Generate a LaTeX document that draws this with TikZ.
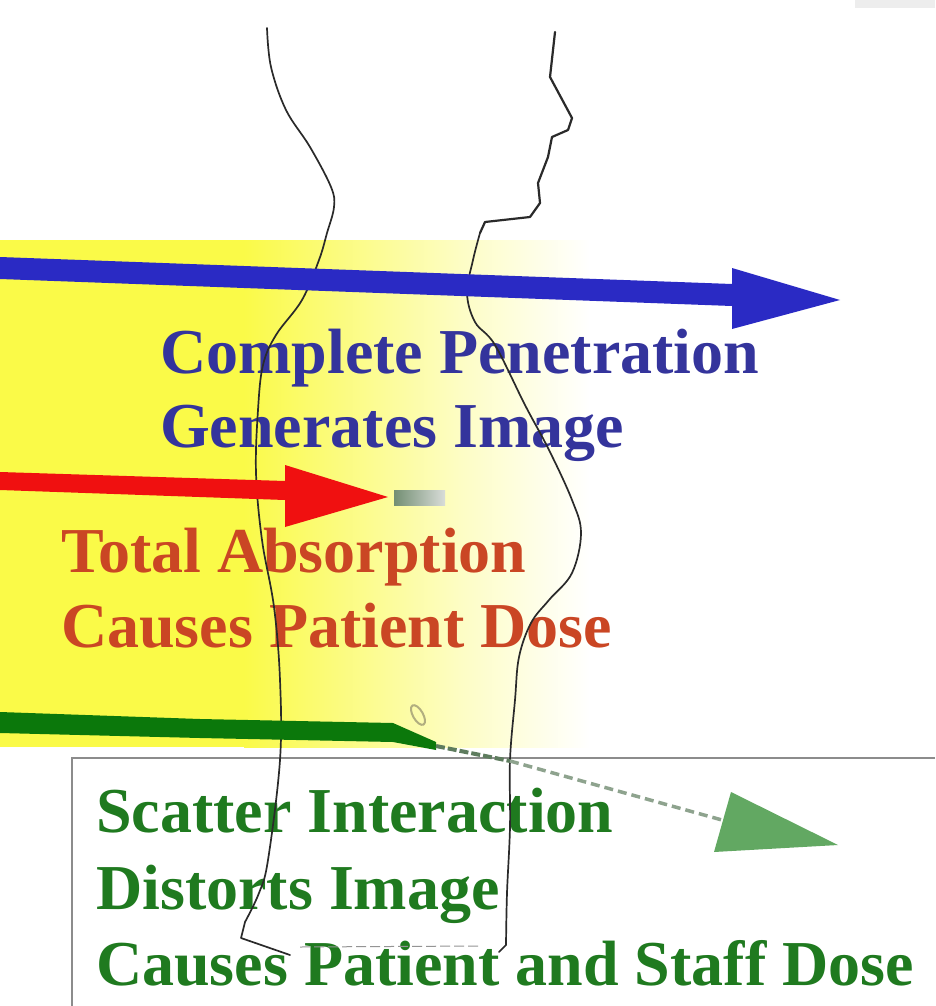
\documentclass[tikz,border=0pt]{standalone}
\usepackage{fontspec}
\setmainfont{Liberation Serif}
\definecolor{beamyellow}{HTML}{FAFA48}
\definecolor{paleyellow}{HTML}{FDFDC4}
\definecolor{penblue}{HTML}{2A2AC4}
\definecolor{penbluetext}{HTML}{34349C}
\definecolor{absred}{HTML}{F01010}
\definecolor{absredtext}{HTML}{CA4624}
\definecolor{scatgreen}{HTML}{0B780B}
\definecolor{scatgreentext}{HTML}{1F7A1F}
\definecolor{scatlight}{HTML}{62A862}
\definecolor{trailgrey}{HTML}{5E7C5E}
\definecolor{outline}{HTML}{2A2A2A}
\definecolor{boxgrey}{HTML}{8C8C8C}
\tikzset{
  caption/.style={anchor=base west, inner sep=0pt,
    font=\fontsize{64}{75}\selectfont\bfseries},
  body/.style={draw=outline, line width=1.7pt, line join=round, line cap=round},
  face/.style={body, line width=2.2pt},
}
\begin{document}
\begin{tikzpicture}[x=1pt,y=-1pt]
\useasboundingbox (0,0) rectangle (935,1006);
\fill[white] (0,0) rectangle (935,1006);
\fill[black!7] (855,0) rectangle (935,8);

% x-ray beam field, fading out to the right
\fill[beamyellow] (0,240) rectangle (245,747);
\shade[left color=beamyellow, right color=paleyellow] (244,240) rectangle (460,747);
\shade[left color=paleyellow, right color=white] (459,240) rectangle (590,747);

% detector / film frame
\draw[boxgrey, line width=2pt] (935,758) -- (72,758) -- (72,1006);

% captions
\node[caption, text=penbluetext] (pen1) at (160,373) {Complete Penetration};
\node[caption, text=penbluetext] (pen2) at (160,447) {Generates Image};
\node[caption, text=absredtext] (abs1) at (61,572) {Total Absorption};
\node[caption, text=absredtext] (abs2) at (61,647) {Causes Patient Dose};
\node[caption, text=scatgreentext] (sc1) at (96,832) {Scatter Interaction};
\node[caption, text=scatgreentext] (sc2) at (96,909) {Distorts Image};
\node[caption, text=scatgreentext] (sc3) at (96,985) {Causes Patient and Staff Dose};

% patient outline: back
\draw[body] plot[smooth, tension=0.6] coordinates {
  (267,28) (271,67) (286,110) (310,147) (331,187) (334,207) (327,233)
  (319,260) (302,300) (276,335) (263,365) (258,410) (256,473) (262,540)
  (274,607) (280,680) (280,760) (268,860) (259,893) (245,922)}
  -- (241,938) -- (290,955);
% patient outline: face and front
\draw[face] (555,32) -- (550,77) -- (572,118) -- (568,130) -- (552,137)
  -- (548,157) -- (538,183) -- (540,203) -- (530,217) -- (485,222)
  -- (480,233);
\draw[body] plot[smooth, tension=0.6] coordinates {
  (480,233) (473,260) (467,293) (475,322) (495,345) (525,405) (549,450)
  (572,500) (581,533) (572,573) (549,600) (531,623) (519,657) (515,700)
  (510,760) (510,827) (507,893) (506,945)} -- (499,952);
\draw[outline!50, line width=1pt, dash pattern=on 10pt off 4pt] (300,947) -- (478,946);

% complete penetration beam
\fill[penblue] (0,257) -- (732,284) -- (732,268) -- (840,300) -- (732,329)
  -- (732,306) -- (0,279) -- cycle;

% total absorption beam
\fill[absred] (0,472) -- (285,481) -- (285,465) -- (388,497) -- (285,527)
  -- (285,500) -- (0,490) -- cycle;
\shade[left color=green!20!black!55, right color=green!10!black!15]
  (394,490) rectangle (445,505);

% scatter beam
\fill[scatgreen] (0,712) -- (200,719) -- (393,723) -- (436,742) -- (436,750)
  -- (393,742) -- (200,738) -- (0,733) -- cycle;
\draw[trailgrey, line width=4pt, dash pattern=on 9pt off 3pt] (436,746) -- (510,761);
\draw[trailgrey!70, line width=3.5pt, dash pattern=on 9pt off 5pt] (510,761) -- (722,820);
\draw[olive!40!gray!70, line width=2pt, rotate around={30:(418,715)}] (418,715) ellipse (5 and 11);
\fill[scatlight] (731,792) -- (838,845) -- (714,852) -- cycle;
\end{tikzpicture}
\end{document}
